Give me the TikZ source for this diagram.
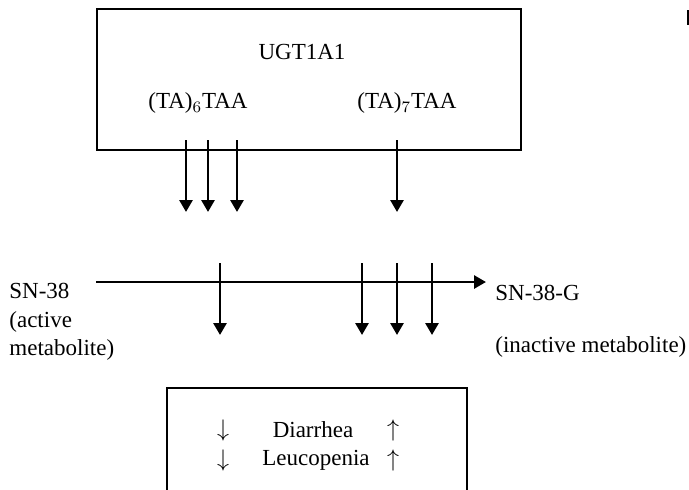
\documentclass[tikz,border=0pt]{standalone}
\usepackage{fontspec}
\setmainfont{Liberation Serif}
\usetikzlibrary{arrows.meta,positioning}

\begin{document}
\begin{tikzpicture}[x=0.5pt,y=-0.5pt,
    box/.style={draw, line width=0.6pt},
    flow/.style={line width=1.4pt, -{Triangle[width=6.5pt,length=6pt]}},
    lbl/.style={font=\fontsize{11.5}{14.25}\selectfont, inner sep=0pt}]
    \useasboundingbox (0,0) rectangle (689,489);
    % gene box
    \draw[box] (97,9) rectangle (521,150);
    \node[lbl] (gene) at (302,52) {UGT1A1};
    \node[lbl] (ta6) at (198,103) {(TA)$_6$TAA};
    \node[lbl] (ta7) at (407,103) {(TA)$_7$TAA};
    % arrows out of the box
    \foreach \x [count=\i] in {186,208,237,397} {
        \coordinate (u\i) at (\x,140);
        \coordinate (v\i) at (\x,212);
        \draw[flow] (u\i) -- (v\i);
    }
    % metabolism
    \node[lbl, anchor=west, align=left] (sn) at (9,322) {SN-38\\(active\\metabolite)};
    \node[lbl, anchor=west] (snG) at (495,293) {SN-38-G};
    \node[lbl, anchor=west] (inact) at (495,347) {(inactive metabolite)};
    \coordinate (m0) at (96,282);
    \coordinate (m1) at (486,282);
    \draw[flow] (m0) -- (m1);
    \foreach \x [count=\i] in {220,362,397,432} {
        \coordinate (p\i) at (\x,263);
        \coordinate (q\i) at (\x,335);
        \draw[flow] (p\i) -- (q\i);
    }
    % toxicity box
    \draw[box] (167,495) |- (467,388) -- (467,495);
    \node[lbl] (dn1) at (223,430) {$\downarrow$};
    \node[lbl] (diar) at (313,430) {Diarrhea};
    \node[lbl] (up1) at (393,430) {$\uparrow$};
    \node[lbl] (dn2) at (223,460) {$\downarrow$};
    \node[lbl] (leuc) at (316,460) {Leucopenia};
    \node[lbl] (up2) at (393,460) {$\uparrow$};
    % edge mark
    \draw[line width=0.8pt] (688,10) -- (688,25);
\end{tikzpicture}
\end{document}
